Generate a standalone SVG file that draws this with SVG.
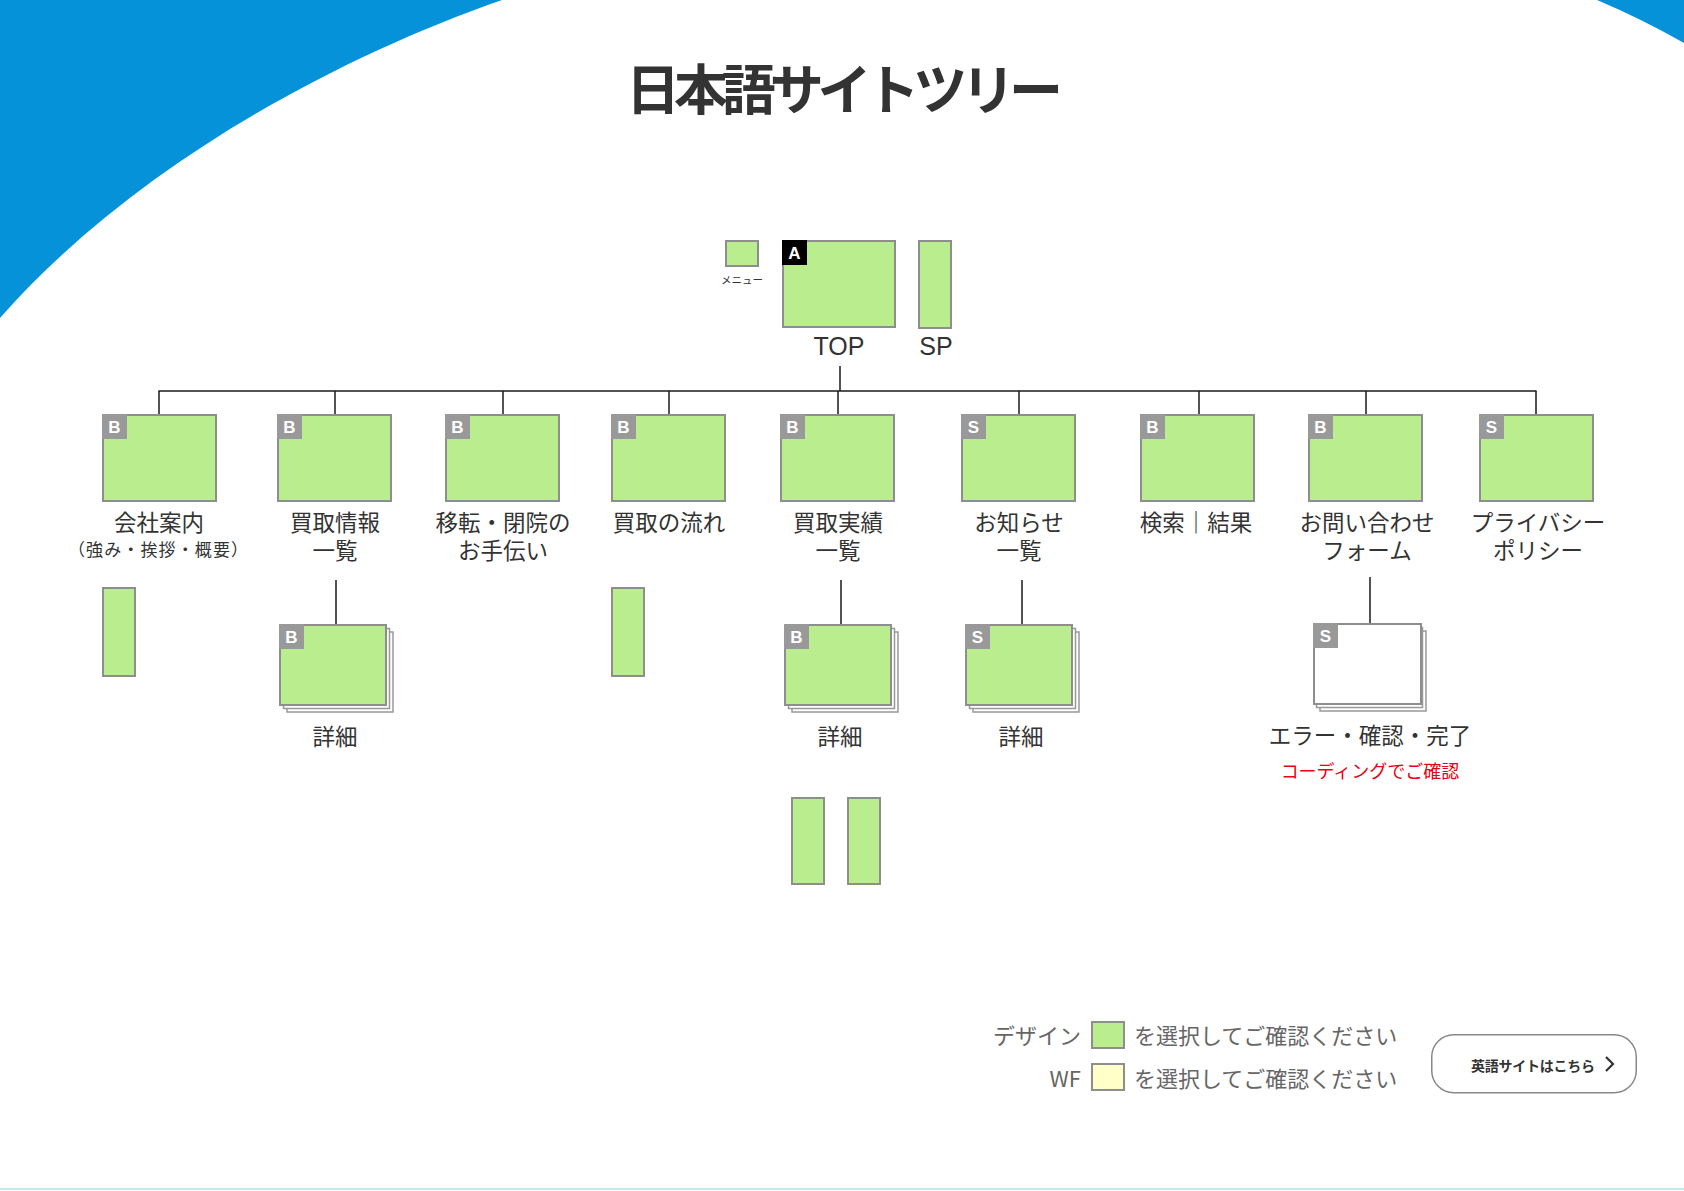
<svg xmlns="http://www.w3.org/2000/svg" width="1684" height="1191" viewBox="0 0 1684 1191">
<style>
.pg{fill:#b9ed8e;stroke:#8e8e8e;stroke-width:2}
.wh{fill:#ffffff;stroke:#999999;stroke-width:1.5}
.wf{fill:#ffffff;stroke:#8e8e8e;stroke-width:2}
.bd{fill:#999999}
.bk{fill:#000000}
.bl{font-family:"Liberation Sans","Noto Sans CJK JP",sans-serif;font-size:17px;font-weight:bold;fill:#ffffff;text-anchor:middle}
.lb{font-family:"Noto Sans CJK JP","Liberation Sans",sans-serif;font-size:22.5px;fill:#333333;text-anchor:middle}
.sm{font-family:"Noto Sans CJK JP","Liberation Sans",sans-serif;font-size:17px;fill:#333333;text-anchor:middle}
.en{font-family:"Liberation Sans","Noto Sans CJK JP",sans-serif;font-size:25px;fill:#333333;text-anchor:middle}
.lg{font-family:"Noto Sans CJK JP","Liberation Sans",sans-serif;font-size:22px;fill:#666666}
.cn{stroke:#1a1a1a;stroke-width:1.5;fill:none}
</style>
<rect x="0" y="0" width="1684" height="1191" fill="#ffffff"/>
<g id="background">
<path d="M0,0 L502,0 C330,60 130,170 0,318 Z" fill="#0692d8"/>
<path d="M1597,0 L1684,0 L1684,43 Q1642,19 1597,0 Z" fill="#0692d8"/>
<rect x="0" y="1188" width="1684" height="2" fill="#c9e6f4"/>
</g>
<g id="title">
<text x="626" y="110" font-family="'Noto Sans CJK JP','Liberation Sans',sans-serif" font-size="54" font-weight="bold" fill="#333333" textLength="437" lengthAdjust="spacing">日本語サイトツリー</text>
</g>
<g id="connectors">
<line class="cn" x1="840" y1="366" x2="840" y2="391"/>
<line class="cn" x1="158.5" y1="391" x2="1536.5" y2="391"/>
<line class="cn" x1="159" y1="391" x2="159" y2="414"/>
<line class="cn" x1="335" y1="391" x2="335" y2="414"/>
<line class="cn" x1="503" y1="391" x2="503" y2="414"/>
<line class="cn" x1="669" y1="391" x2="669" y2="414"/>
<line class="cn" x1="838" y1="391" x2="838" y2="414"/>
<line class="cn" x1="1019" y1="391" x2="1019" y2="414"/>
<line class="cn" x1="1199" y1="391" x2="1199" y2="414"/>
<line class="cn" x1="1366" y1="391" x2="1366" y2="414"/>
<line class="cn" x1="1536" y1="391" x2="1536" y2="414"/>
<line class="cn" x1="336" y1="580" x2="336" y2="624"/>
<line class="cn" x1="841" y1="580" x2="841" y2="624"/>
<line class="cn" x1="1022" y1="580" x2="1022" y2="624"/>
<line class="cn" x1="1370" y1="577" x2="1370" y2="623"/>
</g>
<g id="node-menu">
<rect class="pg" x="726" y="241" width="32" height="25"/>
<text x="742" y="284" font-family="'Noto Sans CJK JP',sans-serif" font-size="10.5" fill="#333333" text-anchor="middle">メニュー</text>
</g>
<g id="node-top">
<rect class="pg" x="783" y="241" width="112" height="86"/>
<rect class="bk" x="782" y="240" width="25" height="25"/>
<text class="bl" x="794.5" y="259" font-size="18">A</text>
<text class="en" x="839" y="355">TOP</text>
</g>
<g id="node-sp">
<rect class="pg" x="919" y="241" width="32" height="87"/>
<text class="en" x="936" y="355">SP</text>
</g>
<g id="node-company">
<rect class="pg" x="103" y="415" width="113" height="86"/>
<rect class="bd" x="102" y="414" width="25" height="25"/>
<text class="bl" x="114.5" y="433">B</text>
<text class="lb" x="159" y="531">会社案内</text>
<text class="sm" x="158" y="556" textLength="180" lengthAdjust="spacing">（強み・挨拶・概要）</text>
</g>
<g id="node-company-sp">
<rect class="pg" x="103" y="588" width="32" height="88"/>
</g>
<g id="node-kaitori-info">
<rect class="pg" x="278" y="415" width="113" height="86"/>
<rect class="bd" x="277" y="414" width="25" height="25"/>
<text class="bl" x="289.5" y="433">B</text>
<text class="lb" x="335" y="531">買取情報</text>
<text class="lb" x="335" y="559">一覧</text>
</g>
<g id="node-kaitori-info-detail">
<rect class="wh" x="287" y="632" width="106" height="80"/>
<rect class="wh" x="283.5" y="628.5" width="106" height="80"/>
<rect class="pg" x="280" y="625" width="106" height="80"/>
<rect class="bd" x="279" y="624" width="25" height="25"/>
<text class="bl" x="291.5" y="643">B</text>
<text class="lb" x="335" y="745">詳細</text>
</g>
<g id="node-iten">
<rect class="pg" x="446" y="415" width="113" height="86"/>
<rect class="bd" x="445" y="414" width="25" height="25"/>
<text class="bl" x="457.5" y="433">B</text>
<text class="lb" x="503" y="531">移転・閉院の</text>
<text class="lb" x="503" y="559">お手伝い</text>
</g>
<g id="node-flow">
<rect class="pg" x="612" y="415" width="113" height="86"/>
<rect class="bd" x="611" y="414" width="25" height="25"/>
<text class="bl" x="623.5" y="433">B</text>
<text class="lb" x="669" y="531">買取の流れ</text>
</g>
<g id="node-flow-sp">
<rect class="pg" x="612" y="588" width="32" height="88"/>
</g>
<g id="node-jisseki">
<rect class="pg" x="781" y="415" width="113" height="86"/>
<rect class="bd" x="780" y="414" width="25" height="25"/>
<text class="bl" x="792.5" y="433">B</text>
<text class="lb" x="838" y="531">買取実績</text>
<text class="lb" x="838" y="559">一覧</text>
</g>
<g id="node-jisseki-detail">
<rect class="wh" x="792" y="632" width="106" height="80"/>
<rect class="wh" x="788.5" y="628.5" width="106" height="80"/>
<rect class="pg" x="785" y="625" width="106" height="80"/>
<rect class="bd" x="784" y="624" width="25" height="25"/>
<text class="bl" x="796.5" y="643">B</text>
<text class="lb" x="840" y="745">詳細</text>
</g>
<g id="node-jisseki-sp1">
<rect class="pg" x="792" y="798" width="32" height="86"/>
</g>
<g id="node-jisseki-sp2">
<rect class="pg" x="848" y="798" width="32" height="86"/>
</g>
<g id="node-news">
<rect class="pg" x="962" y="415" width="113" height="86"/>
<rect class="bd" x="961" y="414" width="25" height="25"/>
<text class="bl" x="973.5" y="433">S</text>
<text class="lb" x="1019" y="531">お知らせ</text>
<text class="lb" x="1019" y="559">一覧</text>
</g>
<g id="node-news-detail">
<rect class="wh" x="973" y="632" width="106" height="80"/>
<rect class="wh" x="969.5" y="628.5" width="106" height="80"/>
<rect class="pg" x="966" y="625" width="106" height="80"/>
<rect class="bd" x="965" y="624" width="25" height="25"/>
<text class="bl" x="977.5" y="643">S</text>
<text class="lb" x="1021" y="745">詳細</text>
</g>
<g id="node-search">
<rect class="pg" x="1141" y="415" width="113" height="86"/>
<rect class="bd" x="1140" y="414" width="25" height="25"/>
<text class="bl" x="1152.5" y="433">B</text>
<text class="lb" x="1196" y="531">検索｜結果</text>
</g>
<g id="node-contact">
<rect class="pg" x="1309" y="415" width="113" height="86"/>
<rect class="bd" x="1308" y="414" width="25" height="25"/>
<text class="bl" x="1320.5" y="433">B</text>
<text class="lb" x="1367" y="531">お問い合わせ</text>
<text class="lb" x="1367" y="559">フォーム</text>
</g>
<g id="node-contact-steps">
<rect class="wh" x="1320" y="631" width="106" height="80"/>
<rect class="wh" x="1316.5" y="627.5" width="106" height="80"/>
<rect class="wf" x="1314" y="624" width="107" height="80"/>
<rect class="bd" x="1313" y="623" width="25" height="25"/>
<text class="bl" x="1325.5" y="642">S</text>
<text class="lb" x="1370" y="744">エラー・確認・完了</text>
<text x="1370" y="778" font-family="'Noto Sans CJK JP',sans-serif" font-size="18" fill="#e60012" text-anchor="middle">コーディングでご確認</text>
</g>
<g id="node-privacy">
<rect class="pg" x="1480" y="415" width="113" height="86"/>
<rect class="bd" x="1479" y="414" width="25" height="25"/>
<text class="bl" x="1491.5" y="433">S</text>
<text class="lb" x="1538" y="531">プライバシー</text>
<text class="lb" x="1538" y="559">ポリシー</text>
</g>
<g id="legend">
<text class="lg" x="1081" y="1044" text-anchor="end">デザイン</text>
<rect class="pg" x="1092" y="1022" width="32" height="26"/>
<text class="lg" x="1134" y="1044">を選択してご確認ください</text>
<text class="lg" x="1081" y="1087" text-anchor="end" font-family="'Liberation Sans',sans-serif">WF</text>
<rect x="1092" y="1064" width="32" height="26" fill="#ffffc8" stroke="#8e8e8e" stroke-width="2"/>
<text class="lg" x="1134" y="1087">を選択してご確認ください</text>
</g>
<g id="english-button">
<rect x="1431.75" y="1034.75" width="204.5" height="58" rx="22" fill="#ffffff" stroke="#888888" stroke-width="1.5"/>
<text x="1471" y="1071" font-family="'Noto Sans CJK JP',sans-serif" font-size="14" font-weight="bold" fill="#333333" textLength="124" lengthAdjust="spacing">英語サイトはこちら</text>
<polyline points="1606,1057 1613,1064 1606,1071" fill="none" stroke="#333333" stroke-width="2.2"/>
</g>
</svg>
